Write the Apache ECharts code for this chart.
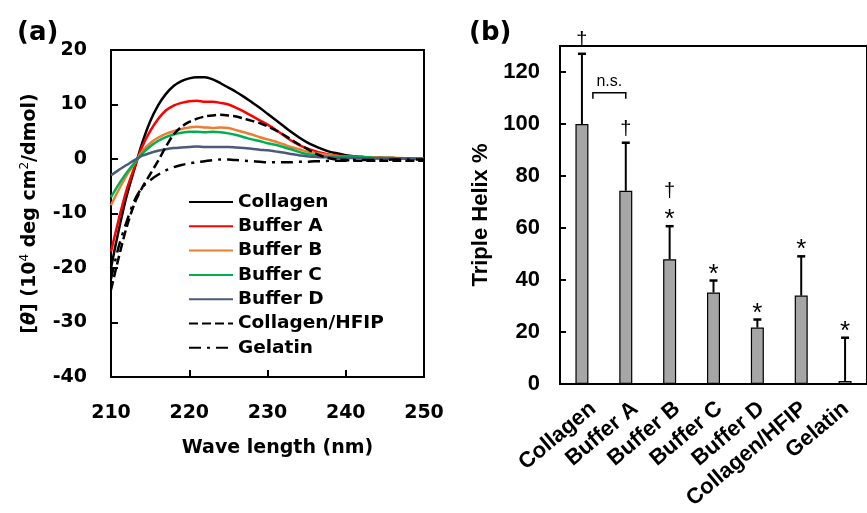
<!DOCTYPE html>
<html><head><meta charset="utf-8">
<script src="https://cdn.jsdelivr.net/npm/echarts@6/dist/echarts.min.js"></script>
<style>html,body{margin:0;padding:0;background:#fff}#c{width:867px;height:513px}</style>
</head><body><div id="c"></div>
<script>
// ---------- Panel (a): CD spectra ----------
const wavelengths = [210,211,212,213,214,215,216,217,218,219,220,221,222,223,224,225,226,227,228,229,230,231,232,233,234,235,236,237,238,239,240,241,242,243,244,245,246,247,248,249,250];
const collagen = [-20,-13,-6.8,-1.8,3.0,6.9,9.8,11.9,13.4,14.3,14.8,15.0,15.0,14.6,13.9,13.1,12.3,11.4,10.4,9.4,8.3,7.2,6.1,5.0,4.0,3.1,2.4,1.8,1.3,1.0,0.7,0.5,0.4,0.3,0.3,0.2,0.2,0.1,0.1,0.1,0.0];
const bufferA = [-17,-11,-5.6,-1.5,2.3,5.1,7.3,8.9,9.8,10.3,10.6,10.7,10.5,10.5,10.3,10.0,9.4,8.7,7.9,7.1,6.3,5.4,4.4,3.4,2.6,2.0,1.5,1.1,0.8,0.6,0.5,0.4,0.3,0.3,0.2,0.2,0.2,0.1,0.1,0.1,0.0];
const bufferB = [-8.5,-5.6,-3.0,-0.8,1.4,2.9,3.9,4.6,5.1,5.5,5.8,5.9,5.8,5.7,5.8,5.7,5.3,4.9,4.5,4.0,3.6,3.2,2.7,2.2,1.8,1.4,1.1,0.9,0.7,0.5,0.4,0.4,0.3,0.3,0.3,0.2,0.2,0.2,0.1,0.1,0.0];
const bufferC = [-7.0,-4.6,-2.5,-0.7,1.0,2.3,3.3,4.0,4.5,4.8,5.0,5.0,4.9,5.0,4.9,4.7,4.4,4.0,3.6,3.3,2.9,2.6,2.2,1.8,1.3,0.9,0.7,0.5,0.4,0.4,0.3,0.3,0.3,0.3,0.2,0.2,0.2,0.1,0.1,0.1,0.0];
const bufferD = [-3.0,-2.0,-1.1,-0.2,0.6,1.1,1.5,1.8,2.0,2.1,2.2,2.3,2.2,2.2,2.2,2.2,2.1,2.0,1.9,1.7,1.6,1.4,1.2,0.9,0.7,0.5,0.4,0.3,0.3,0.2,0.2,0.2,0.2,0.1,0.1,0.1,0.1,0.1,0.1,0.0,0.0];
const collagenHFIP = [-24,-18,-12.5,-8.2,-5.2,-2.8,-0.4,2.2,4.5,5.9,6.8,7.4,7.8,8.0,8.1,8.0,7.8,7.4,7.0,6.6,6.0,5.3,4.5,3.6,2.7,1.9,1.1,0.5,0.1,-0.1,-0.2,-0.3,-0.3,-0.3,-0.3,-0.3,-0.3,-0.3,-0.3,-0.3,-0.3];
const gelatin = [-22,-16,-11.5,-7.6,-5.2,-3.9,-2.9,-2.1,-1.5,-1.1,-0.8,-0.6,-0.4,-0.2,-0.1,-0.1,-0.2,-0.3,-0.4,-0.5,-0.6,-0.6,-0.6,-0.6,-0.5,-0.5,-0.4,-0.4,-0.3,-0.3,-0.3,-0.2,-0.2,-0.2,-0.2,-0.2,-0.1,-0.1,-0.1,-0.1,-0.1];
const cdNames = ['Collagen','Buffer A','Buffer B','Buffer C','Buffer D','Collagen/HFIP','Gelatin'];
const cdSeries = [collagen, bufferA, bufferB, bufferC, bufferD, collagenHFIP, gelatin];
const xRange = [210, 250], xStep = 10;
const yRange = [-40, 20], yStep = 10;

// ---------- Panel (b): triple helix % ----------
const categories = ['Collagen','Buffer A','Buffer B','Buffer C','Buffer D','Collagen/HFIP','Gelatin'];
const helixPct = [100, 74.3, 48, 35.2, 21.7, 34, 1.2];
const helixErr = [27, 18.5, 12.7, 4.6, 3.1, 15.1, 16.6];
const markers = ['†','†','†\n*','*','*','*','*'];
const nsPair = [0, 1];
const nsLevel = 112;
const helixRange = [0, 130], helixStep = 20;

const FL = 'DejaVu Sans';
const FR = 'Liberation Sans';
const colors = ['#000000','#ff0000','#ed7d31','#00b050','#4a5a78','#000000','#000000'];
const types = ['solid','solid','solid','solid','solid',[9,4],[12,6,3,6]];

const chart = echarts.init(document.getElementById('c'));

const lineSeries = cdNames.map((n, k) => ({
  name: n, type: 'line', xAxisIndex: 0, yAxisIndex: 0,
  data: wavelengths.map((w, i) => [w, cdSeries[k][i]]),
  symbol: 'none', smooth: 0.3,
  lineStyle: { color: colors[k], width: 2.5, type: types[k] },
  itemStyle: { color: colors[k] },
  z: 3 + k
}));

function renderErr(params, api) {
  const i = api.value(0), v = api.value(1), e = api.value(2);
  const b = api.coord([i, v]), t = api.coord([i, v + e]);
  return { type: 'group', children: [
    { type: 'line', shape: { x1: b[0], y1: b[1], x2: t[0], y2: t[1] }, style: { stroke: '#000', lineWidth: 2 } },
    { type: 'line', shape: { x1: t[0] - 4, y1: t[1], x2: t[0] + 4, y2: t[1] }, style: { stroke: '#000', lineWidth: 2.5 } }
  ]};
}
function renderMark(params, api) {
  const i = api.value(0), top = api.value(1);
  const p = api.coord([i, top]);
  const chars = markers[i].split('\n').reverse();
  return { type: 'group', children: chars.map((ch, k) => {
    const fs = ch === '*' ? 26 : 20;
    const shift = ch === '*' ? 0.23 * fs : -0.06 * fs;
    return { type: 'text', x: p[0], y: p[1] - 12 - 21 * k + shift, style: {
      text: ch, align: 'center', verticalAlign: 'middle', fontSize: fs, fontFamily: FR, fill: '#000' } };
  }) };
}
function renderNs(params, api) {
  const a = api.value(0), b = api.value(1), y = api.value(2);
  const band = api.size([1, 0])[0];
  const p0 = api.coord([a, y]), p1 = api.coord([b, y]);
  const x0 = p0[0] + band * 0.25, x1 = p1[0];
  const drop = 6;
  return { type: 'group', children: [
    { type: 'polyline', shape: { points: [[x0, p0[1] + drop], [x0, p0[1]], [x1, p0[1]], [x1, p0[1] + drop]] },
      style: { stroke: '#000', lineWidth: 1.5, fill: null } },
    { type: 'text', x: (x0 + x1) / 2, y: p0[1] - 3, style: { text: 'n.s.', align: 'center', verticalAlign: 'bottom',
      fontSize: 16, fontFamily: FR, fill: '#000' } }
  ]};
}

const axisBase = {
  axisLine: { show: true, onZero: false, lineStyle: { color: '#000', width: 2 } },
  axisTick: { show: true, inside: true, length: 7, lineStyle: { color: '#000', width: 2 } },
  splitLine: { show: false }
};

chart.setOption({
  animation: false,
  backgroundColor: '#fff',
  title: [
    { text: '(a)', left: 12, top: 15, textStyle: { fontFamily: FL, fontWeight: 'bold', fontSize: 26, color: '#000' } },
    { text: '(b)', left: 464, top: 15, textStyle: { fontFamily: FL, fontWeight: 'bold', fontSize: 26, color: '#000' } }
  ],
  legend: {
    data: cdNames, orient: 'vertical', left: 188, top: 192, padding: 0,
    itemWidth: 44, itemHeight: 14, itemGap: 4.3,
    itemStyle: { color: 'transparent', borderColor: 'transparent', borderWidth: 0, opacity: 0 },
    textStyle: { fontFamily: FL, fontWeight: 'bold', fontSize: 18.5, color: '#000', lineHeight: 20 }
  },
  grid: [
    { left: 111, top: 50, width: 313, height: 327, show: true, borderColor: '#000', borderWidth: 2, backgroundColor: 'transparent' },
    { left: 560, top: 46, right: -7, bottom: 129, show: true, borderColor: '#000', borderWidth: 2, backgroundColor: 'transparent' },
    { left: 572, top: 46, right: -19, bottom: 129, show: false }
  ],
  xAxis: [
    Object.assign({}, axisBase, {
      type: 'value', gridIndex: 0, min: xRange[0], max: xRange[1], interval: xStep,
      axisLabel: { margin: 27, fontFamily: FL, fontWeight: 'bold', fontSize: 19, color: '#000' },
      name: 'Wave length (nm)', nameLocation: 'middle', nameGap: 62,
      nameTextStyle: { fontFamily: FL, fontWeight: 'bold', fontSize: 19, color: '#000', padding: [0, 0, 0, 20] }
    }),
    {
      type: 'category', gridIndex: 1, data: categories,
      axisLine: { show: true, lineStyle: { color: '#000', width: 2 } },
      axisTick: { show: false }, axisLabel: { show: false }
    },
    {
      type: 'category', gridIndex: 2, data: categories,
      axisLine: { show: false }, axisTick: { show: false },
      axisLabel: { rotate: 40, margin: 22, fontFamily: FR, fontWeight: 'bold', fontSize: 22, color: '#000', interval: 0 }
    }
  ],
  yAxis: [
    Object.assign({}, axisBase, {
      type: 'value', gridIndex: 0, min: yRange[0], max: yRange[1], interval: yStep,
      axisLabel: { margin: 24, fontFamily: FL, fontWeight: 'bold', fontSize: 19, color: '#000' },
      name: '{b|[}{th|θ}{b|] (10}{sup|4}{b| deg cm}{sup|2}{b|/dmol)}',
      nameLocation: 'middle', nameGap: 70,
      nameTextStyle: { rich: {
        b: { fontFamily: FL, fontWeight: 'bold', fontSize: 19, color: '#000', lineHeight: 22 },
        th: { fontFamily: FL, fontWeight: 'bold', fontStyle: 'italic', fontSize: 19, color: '#000', lineHeight: 22 },
        sup: { fontFamily: FL, fontSize: 12, color: '#000', verticalAlign: 'top', lineHeight: 22 }
      } }
    }),
    Object.assign({}, axisBase, {
      type: 'value', gridIndex: 1, min: helixRange[0], max: helixRange[1], interval: helixStep,
      axisTick: { show: true, inside: true, length: 6, lineStyle: { color: '#000', width: 2 } },
      axisLabel: { margin: 20, fontFamily: FR, fontWeight: 'bold', fontSize: 22, color: '#000',
        formatter: v => (v % helixStep === 0 ? String(v) : '') },
      name: 'Triple Helix %', nameLocation: 'middle', nameGap: 68,
      nameTextStyle: { fontFamily: FR, fontWeight: 'bold', fontSize: 22, color: '#000' }
    }),
    { type: 'value', gridIndex: 2, show: false }
  ],
  series: lineSeries.concat([
    { type: 'bar', xAxisIndex: 1, yAxisIndex: 1, data: helixPct, barWidth: 13,
      itemStyle: { color: '#a6a6a6', borderColor: '#000', borderWidth: 1.2 }, z: 2 },
    { type: 'custom', xAxisIndex: 1, yAxisIndex: 1, renderItem: renderErr, clip: false, z: 3,
      data: categories.map((c, i) => [i, helixPct[i], helixErr[i]]) },
    { type: 'custom', xAxisIndex: 1, yAxisIndex: 1, renderItem: renderMark, clip: false, z: 4,
      data: categories.map((c, i) => [i, helixPct[i] + helixErr[i]]) },
    { type: 'custom', xAxisIndex: 1, yAxisIndex: 1, renderItem: renderNs, clip: false, z: 4,
      data: [[nsPair[0], nsPair[1], nsLevel]] }
  ])
});
</script></body></html>
